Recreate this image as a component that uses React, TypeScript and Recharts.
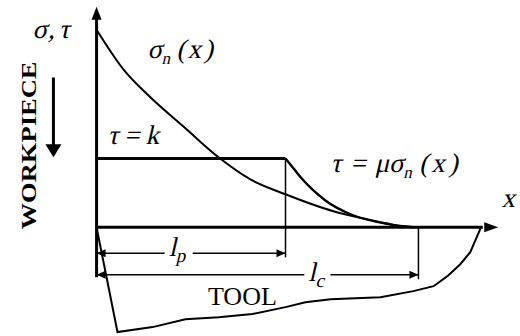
import React from 'react';
import { ComposedChart, Line, XAxis, YAxis, ReferenceLine, ReferenceDot } from 'recharts';

// x is position along the rake face (l_c = 1), y is stress (sigma_n(0) = 1)
const sigmaX = [0, 0.084, 0.168, 0.27, 0.379, 0.478, 0.587, 0.736, 0.842, 0.935, 1.0];
const sigmaY = [1.0, 0.798, 0.657, 0.51, 0.354, 0.242, 0.167, 0.081, 0.04, 0.008, 0];

const tauK = 0.348;
const lp = 0.587;
const lc = 1.0;
const tauPlateauX = [0, lp];
const tauSlideX = [lp, 0.602, 0.634, 0.711, 0.789, 0.913, 0.985];
const tauSlideY = [tauK, 0.318, 0.253, 0.136, 0.066, 0.015, 0];

const toolX = [0, 0.065, 0.174, 0.276, 0.379, 0.484, 0.587, 0.649, 0.727, 0.882, 0.984, 1.047, 1.09, 1.13, 1.161, 1.193];
const toolY = [0, -0.53, -0.505, -0.465, -0.455, -0.439, -0.404, -0.379, -0.364, -0.354, -0.323, -0.298, -0.247, -0.187, -0.126, -0.005];

const zip = (xs: number[], ys: number[]) => xs.map((x, i) => ({ x, y: ys[i] }));
const sigmaData = zip(sigmaX, sigmaY);
const tauPlateau = tauPlateauX.map((x) => ({ x, y: tauK }));
const tauSlide = zip(tauSlideX, tauSlideY);
const toolData = zip(toolX, toolY);

const SERIF = '"Liberation Serif", "Times New Roman", serif';
const INK = '#000';

type Dir = 'up' | 'down' | 'left' | 'right';
const head = (dir: Dir, len: number, half: number) => (p: any) => {
  const { cx, cy } = p;
  let pts = '';
  if (dir === 'up') pts = `${cx},${cy} ${cx - half},${cy + len} ${cx + half},${cy + len}`;
  if (dir === 'down') pts = `${cx},${cy} ${cx - half},${cy - len} ${cx + half},${cy - len}`;
  if (dir === 'right') pts = `${cx},${cy} ${cx - len},${cy - half} ${cx - len},${cy + half}`;
  if (dir === 'left') pts = `${cx},${cy} ${cx + len},${cy - half} ${cx + len},${cy + half}`;
  return <polygon points={pts} fill={INK} />;
};

// math labels: upright serif sheared into a slant (the italic face falls back to a sans)
const mathText = (content: React.ReactNode, bg = 0) => (p: any) => (
  <g transform={`translate(${p.cx},${p.cy})`}>
    {bg > 0 && <rect x={-4} y={-22} width={bg} height={34} fill="#fff" />}
    <text x={0} y={0} fontFamily={SERIF} fontSize={27} fill={INK} transform="skewX(-13)">
      {content}
    </text>
  </g>
);

const sub = (s: string, size = 17) => (
  <tspan fontSize={size} dy={6} dx={1}>{s}</tspan>
);

export default function App() {
  return (
    <div style={{ position: 'fixed', left: 0, top: 0, width: 520, height: 336, background: '#fff' }}>
      <ComposedChart width={520} height={336} margin={{ top: 0, right: 5, bottom: 0, left: 0 }}>
        <XAxis type="number" dataKey="x" domain={[-0.3, 1.3]} allowDataOverflow hide />
        <YAxis type="number" dataKey="y" domain={[-0.55, 1.15]} allowDataOverflow hide />

        {/* axes */}
        <ReferenceLine segment={[{ x: 0, y: -0.253 }, { x: 0, y: 1.09 }]} stroke={INK} strokeWidth={3} ifOverflow="visible" />
        <ReferenceDot x={0} y={1.116} shape={head('up', 13, 5)} ifOverflow="visible" />
        <ReferenceLine segment={[{ x: 0, y: 0 }, { x: 1.2, y: 0 }]} stroke={INK} strokeWidth={3} ifOverflow="visible" />
        <ReferenceDot x={1.248} y={0} shape={head('right', 14, 5)} ifOverflow="visible" />

        {/* tool outline */}
        <Line data={toolData} dataKey="y" type="linear" stroke={INK} strokeWidth={2} dot={false} activeDot={false} isAnimationActive={false} />

        {/* stresses */}
        <Line data={sigmaData} dataKey="y" type="monotone" stroke={INK} strokeWidth={2} dot={false} activeDot={false} isAnimationActive={false} />
        <Line data={tauPlateau} dataKey="y" type="linear" stroke={INK} strokeWidth={3} dot={false} activeDot={false} isAnimationActive={false} />
        <Line data={tauSlide} dataKey="y" type="monotone" stroke={INK} strokeWidth={2.4} dot={false} activeDot={false} isAnimationActive={false} />

        {/* contact lengths */}
        <ReferenceLine segment={[{ x: lp, y: tauK }, { x: lp, y: -0.152 }]} stroke={INK} strokeWidth={1.5} ifOverflow="visible" />
        <ReferenceLine segment={[{ x: lc, y: 0 }, { x: lc, y: -0.263 }]} stroke={INK} strokeWidth={1.5} ifOverflow="visible" />
        <ReferenceLine segment={[{ x: 0, y: -0.131 }, { x: lp, y: -0.131 }]} stroke={INK} strokeWidth={1.5} ifOverflow="visible" />
        <ReferenceLine segment={[{ x: 0, y: -0.24 }, { x: lc, y: -0.24 }]} stroke={INK} strokeWidth={1.5} ifOverflow="visible" />
        <ReferenceDot x={0} y={-0.131} shape={head('left', 9, 4)} ifOverflow="visible" />
        <ReferenceDot x={lp} y={-0.131} shape={head('right', 9, 4)} ifOverflow="visible" />
        <ReferenceDot x={0} y={-0.24} shape={head('left', 9, 4)} ifOverflow="visible" />
        <ReferenceDot x={lc} y={-0.24} shape={head('right', 9, 4)} ifOverflow="visible" />

        {/* workpiece arrow */}
        <ReferenceLine segment={[{ x: -0.134, y: 0.758 }, { x: -0.134, y: 0.41 }]} stroke={INK} strokeWidth={3} ifOverflow="visible" />
        <ReferenceDot x={-0.134} y={0.354} shape={head('down', 13, 8)} ifOverflow="visible" />

        {/* labels */}
        <ReferenceDot x={-0.199} y={0.96} ifOverflow="visible"
          shape={mathText(<>σ<tspan dx={1}>,</tspan><tspan dx={4}>τ</tspan></>)} />
        <ReferenceDot x={0.158} y={0.859} ifOverflow="visible"
          shape={mathText(<>σ{sub('n')}<tspan dy={-6} dx={5}>(</tspan><tspan dx={2}>x</tspan><tspan dx={3}>)</tspan></>)} />
        <ReferenceDot x={0.034} y={0.419} ifOverflow="visible"
          shape={mathText(<>τ<tspan dx={6}>=</tspan><tspan dx={6}>k</tspan></>)} />
        <ReferenceDot x={0.727} y={0.278} ifOverflow="visible"
          shape={mathText(<>τ<tspan dx={9}>=</tspan><tspan dx={9}>μσ</tspan>{sub('n')}<tspan dy={-6} dx={6}>(</tspan><tspan dx={3}>x</tspan><tspan dx={4}>)</tspan></>)} />
        <ReferenceDot x={1.258} y={0.101} ifOverflow="visible"
          shape={mathText(<>x</>)} />
        <ReferenceDot x={0.224} y={-0.146} ifOverflow="visible"
          shape={mathText(<>l{sub('p', 19)}</>, 28)} />
        <ReferenceDot x={0.658} y={-0.273} ifOverflow="visible"
          shape={mathText(<>l{sub('c', 19)}</>, 26)} />
        <ReferenceDot x={0.453} y={-0.394} ifOverflow="visible"
          shape={(p: any) => (
            <text x={p.cx} y={p.cy} fontFamily={SERIF} fontSize={26} fill={INK} textAnchor="middle">TOOL</text>
          )} />
        <ReferenceDot x={-0.211} y={0.414} ifOverflow="visible"
          shape={(p: any) => (
            <text x={p.cx} y={p.cy} fontFamily={SERIF} fontSize={22} fontWeight="bold" fill={INK}
              textAnchor="middle" dominantBaseline="central" textLength={168} lengthAdjust="spacingAndGlyphs"
              transform={`rotate(-90 ${p.cx} ${p.cy})`}>WORKPIECE</text>
          )} />
      </ComposedChart>
    </div>
  );
}
